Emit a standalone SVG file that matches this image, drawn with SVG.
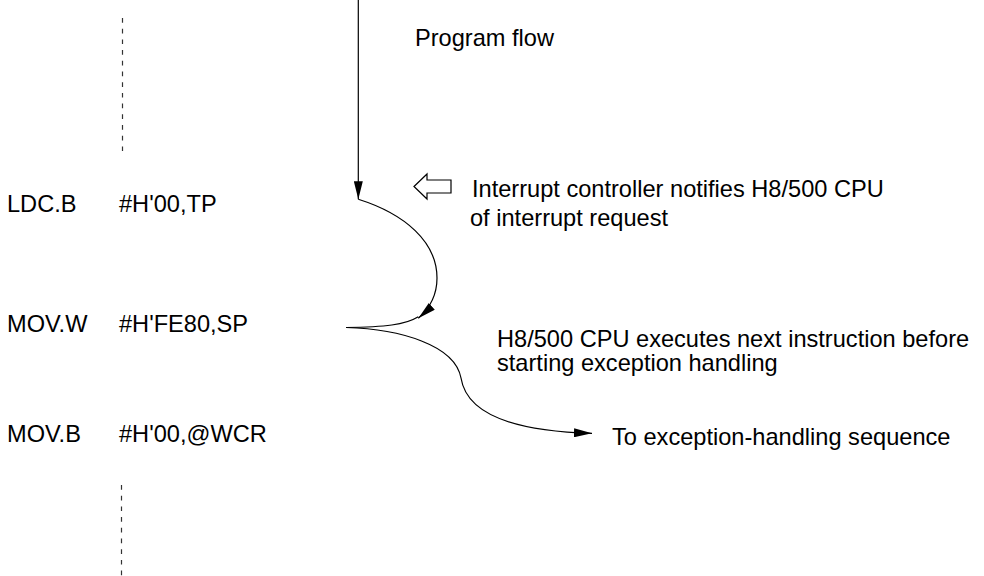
<svg xmlns="http://www.w3.org/2000/svg" width="984" height="576" viewBox="0 0 984 576">
<style>
text { font-family: "Liberation Sans", Arial, sans-serif; font-size: 23.6px; fill: #000; }
.ln { fill: none; stroke: #000; stroke-width: 1.2; }
.dash { fill: none; stroke: #333; stroke-width: 1.2; stroke-dasharray: 4.7 6; }
</style>
<defs>
<marker id="ah" viewBox="0 0 18 9" refX="18" refY="4.5" markerWidth="18" markerHeight="9" markerUnits="userSpaceOnUse" orient="auto">
<path d="M0,0 L18,4.5 L0,9 z" fill="#000"/>
</marker>
</defs>
<rect width="984" height="576" fill="#fff"/>
<g id="code">
<text x="7" y="212">LDC.B</text>
<text x="119" y="212">#H'00,TP</text>
<text x="7" y="332">MOV.W</text>
<text x="119" y="332">#H'FE80,SP</text>
<text x="7" y="442">MOV.B</text>
<text x="119" y="442">#H'00,@WCR</text>
</g>
<g id="dashes">
<line class="dash" x1="122.5" y1="18" x2="122.5" y2="152"/>
<line class="dash" x1="121.5" y1="485" x2="121.5" y2="576"/>
</g>
<g id="labels">
<text x="415" y="46">Program flow</text>
<text x="472" y="197">Interrupt controller notifies H8/500 CPU</text>
<text x="470" y="226">of interrupt request</text>
<text x="497" y="347">H8/500 CPU executes next instruction before</text>
<text x="497" y="371">starting exception handling</text>
<text x="612" y="445">To exception-handling sequence</text>
</g>
<g id="interrupt-arrow">
<polygon class="ln" points="414,186.5 427,174 427,180 451,180 451,193 427,193 427,199"/>
</g>
<g id="connectors">
<path class="ln" d="M358.3,0 L358.3,199.3" marker-end="url(#ah)"/>
<path class="ln" d="M358.3,199.3 C405,214 437,242 437,278 C437,296 430,308 418.3,318.3" marker-end="url(#ah)"/>
<path class="ln" d="M346,327.5 C385,327 405,325 418.3,316.7"/>
<path class="ln" d="M346,327.5 C400,329 455,345 461,378 C466,410 505,431 592,433.3" marker-end="url(#ah)"/>
</g>
</svg>
